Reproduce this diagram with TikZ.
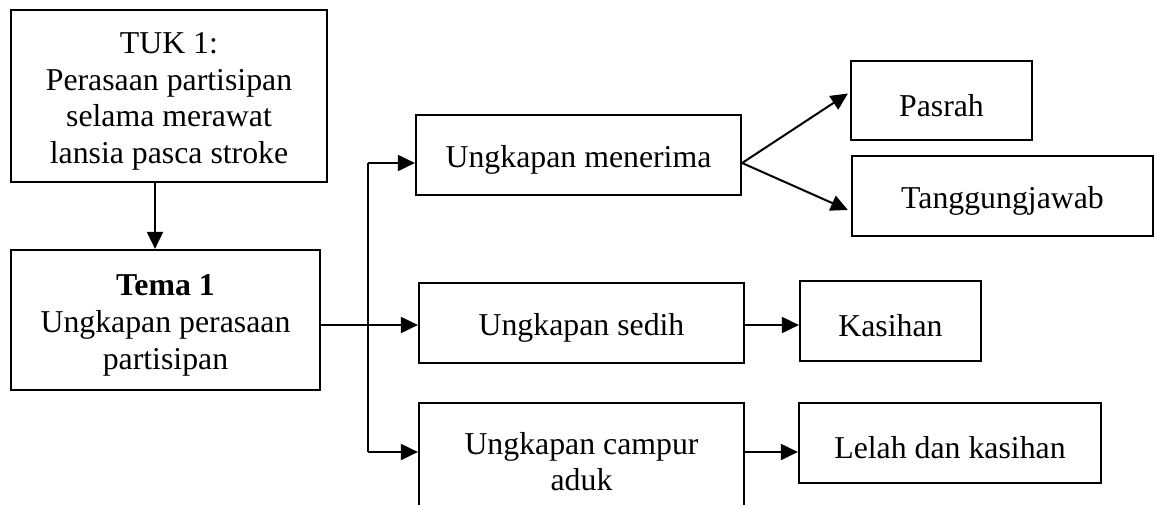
\documentclass[tikz,border=0pt]{standalone}
\usepackage{fontspec}
\setmainfont{Liberation Serif}
\usetikzlibrary{arrows.meta,calc}
\newcommand{\toprule}{\rule{0pt}{32pt}}
\begin{document}
\begin{tikzpicture}[x=1pt,y=-1pt,
  box/.style={draw,line width=2.2pt,align=center,inner sep=0pt,
    font=\fontsize{31.8}{36.7}\selectfont},
  one/.style={box,execute at begin node={\toprule}},
  arr/.style={line width=2pt,-{Triangle[length=17pt,width=16pt]}},
  plain/.style={line width=1.3pt}]
\useasboundingbox (0,0) rectangle (1154,504);
\node[box,minimum width=316pt,minimum height=172pt] (tuk) at (169,96)
  {\toprule TUK 1:\\Perasaan partisipan\\selama merawat\\lansia pasca stroke};
\node[box,minimum width=309pt,minimum height=140pt] (tema) at (165.5,320)
  {\toprule\textbf{Tema 1}\\Ungkapan perasaan\\partisipan};
\node[one,minimum width=325pt,minimum height=80pt] (menerima) at (578.5,155)
  {Ungkapan menerima};
\node[one,minimum width=325pt,minimum height=80pt] (sedih) at (581.5,323)
  {Ungkapan sedih};
\node[box,minimum width=325pt,minimum height=107pt] (campur) at (581.5,456.5)
  {\toprule Ungkapan campur\\aduk};
\node[one,minimum width=181pt,minimum height=79pt] (pasrah) at (941.5,100.5)
  {Pasrah};
\node[one,minimum width=301pt,minimum height=80pt] (tangg) at (1002.5,196)
  {Tanggungjawab};
\node[one,minimum width=181pt,minimum height=80pt] (kasihan) at (890.5,321)
  {Kasihan};
\node[one,minimum width=302pt,minimum height=80pt] (lelah) at (950,443)
  {Lelah dan kasihan};
% connectors
\coordinate (cx) at (155,0);
\draw[arr] (tuk.south -| cx) -- (tema.north -| cx);
\coordinate (ry) at (0,325);
\draw[arr] (tema.east |- ry) -- (sedih.west |- ry);
\coordinate (b1) at (368,163);
\coordinate (b2) at (368,452);
\draw[plain] (b1) -- (b2);
\draw[arr] (b1) -- (menerima.west |- b1);
\draw[arr] (b2) -- (campur.west |- b2);
\draw[arr] (menerima.east |- b1) -- ($(pasrah.west)+(-2,-7)$);
\draw[arr] (menerima.east |- b1) -- ($(tangg.west)+(-3,14)$);
\draw[arr] (sedih.east |- ry) -- (kasihan.west |- ry);
\draw[arr] (campur.east |- b2) -- (lelah.west |- b2);
\end{tikzpicture}
\end{document}
